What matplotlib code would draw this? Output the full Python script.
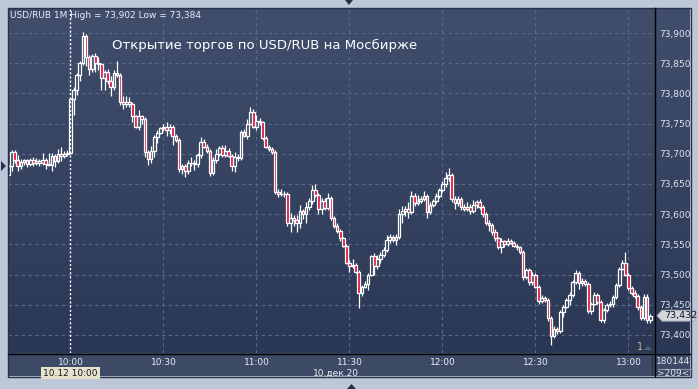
import numpy as np
import matplotlib.pyplot as plt
from matplotlib.colors import LinearSegmentedColormap
from matplotlib.patches import Polygon
from matplotlib.transforms import blended_transform_factory

# one-minute candles from 09:40, USD/RUB 10.12.20
first_open = 73.665
close = [
    73.680, 73.703, 73.690, 73.680, 73.686, 73.689, 73.683, 73.690, 73.684, 73.688,
    73.684, 73.690, 73.683, 73.682, 73.696, 73.688, 73.700, 73.696, 73.700, 73.702,
    73.790, 73.805, 73.830, 73.850, 73.895, 73.860, 73.840, 73.862, 73.850, 73.848,
    73.825, 73.835, 73.820, 73.810, 73.833, 73.830, 73.785, 73.782, 73.786, 73.783,
    73.762, 73.745, 73.762, 73.758, 73.703, 73.692, 73.705, 73.728, 73.735, 73.742,
    73.745, 73.740, 73.745, 73.730, 73.723, 73.675, 73.680, 73.672, 73.685, 73.684,
    73.683, 73.698, 73.720, 73.712, 73.705, 73.668, 73.690, 73.700, 73.710, 73.698,
    73.705, 73.697, 73.680, 73.695, 73.693, 73.736, 73.730, 73.750, 73.770, 73.745,
    73.755, 73.752, 73.726, 73.712, 73.708, 73.703, 73.636, 73.634, 73.633, 73.634,
    73.586, 73.594, 73.590, 73.585, 73.605, 73.600, 73.612, 73.622, 73.640, 73.632,
    73.608, 73.622, 73.610, 73.627, 73.594, 73.580, 73.572, 73.560, 73.548, 73.520,
    73.514, 73.516, 73.505, 73.470, 73.480, 73.485, 73.500, 73.530, 73.515, 73.525,
    73.532, 73.540, 73.557, 73.562, 73.557, 73.562, 73.600, 73.605, 73.608, 73.604,
    73.630, 73.618, 73.622, 73.625, 73.630, 73.603, 73.615, 73.622, 73.630, 73.640,
    73.650, 73.660, 73.665, 73.625, 73.618, 73.625, 73.612, 73.608, 73.612, 73.605,
    73.615, 73.620, 73.612, 73.600, 73.585, 73.582, 73.570, 73.560, 73.545, 73.555,
    73.550, 73.556, 73.553, 73.548, 73.545, 73.537, 73.496, 73.508, 73.488, 73.500,
    73.480, 73.456, 73.462, 73.458, 73.428, 73.398, 73.410, 73.406, 73.438, 73.447,
    73.458, 73.466, 73.488, 73.503, 73.486, 73.490, 73.484, 73.440, 73.452, 73.466,
    73.455, 73.425, 73.441, 73.450, 73.452, 73.463, 73.483, 73.510, 73.520, 73.500,
    73.478, 73.470, 73.465, 73.446, 73.428, 73.463, 73.425, 73.432,
]
# wick lengths above / below the body, thousandths of a rouble
wick_up = [
    5, 3, 3, 8, 5, 3, 3, 3, 5, 5, 3, 12, 3, 18, 5, 3, 8, 12, 5, 5,
    3, 5, 3, 3, 7, 3, 3, 3, 5, 10, 3, 3, 5, 8, 5, 20, 3, 10, 10, 8,
    3, 3, 10, 3, 3, 3, 8, 3, 5, 3, 5, 8, 5, 3, 3, 3, 3, 3, 5, 10,
    5, 3, 8, 5, 5, 3, 5, 8, 3, 5, 10, 5, 3, 8, 5, 3, 5, 8, 8, 5,
    10, 5, 3, 3, 3, 3, 3, 5, 8, 5, 3, 8, 5, 8, 10, 3, 8, 5, 8, 10,
    3, 5, 5, 8, 3, 3, 5, 3, 3, 3, 5, 10, 3, 3, 3, 5, 3, 3, 5, 8,
    5, 5, 8, 5, 3, 5, 8, 8, 5, 12, 8, 5, 10, 5, 8, 3, 5, 3, 5, 3,
    5, 10, 12, 3, 5, 5, 3, 5, 8, 5, 8, 3, 5, 3, 3, 5, 3, 5, 3, 5,
    3, 5, 3, 3, 3, 3, 3, 3, 3, 5, 3, 3, 5, 3, 3, 3, 5, 3, 3, 3,
    3, 5, 3, 5, 3, 5, 3, 3, 3, 5, 3, 3, 3, 3, 5, 3, 3, 3, 5, 17,
    3, 3, 5, 3, 3, 5, 5, 2,
]
wick_dn = [
    25, 8, 5, 8, 5, 5, 5, 3, 5, 3, 5, 3, 8, 3, 10, 10, 3, 8, 3, 3,
    2, 25, 8, 10, 3, 15, 10, 5, 15, 10, 20, 20, 5, 15, 5, 3, 5, 8, 5, 5,
    10, 3, 5, 8, 8, 10, 8, 10, 10, 3, 5, 10, 8, 15, 3, 5, 8, 10, 5, 5,
    10, 5, 5, 3, 3, 5, 3, 5, 3, 3, 3, 3, 8, 10, 5, 3, 3, 5, 3, 3,
    5, 5, 3, 3, 3, 3, 3, 5, 3, 5, 5, 15, 10, 15, 8, 8, 15, 5, 5, 3,
    8, 8, 3, 3, 3, 3, 3, 5, 3, 3, 10, 3, 3, 25, 5, 3, 10, 3, 15, 5,
    5, 3, 3, 5, 3, 8, 3, 15, 8, 10, 3, 5, 3, 3, 3, 10, 3, 3, 3, 3,
    3, 5, 5, 5, 10, 5, 5, 3, 3, 5, 3, 5, 3, 5, 3, 10, 5, 5, 3, 10,
    5, 3, 3, 3, 5, 3, 5, 3, 5, 5, 3, 5, 3, 3, 5, 14, 3, 5, 3, 8,
    3, 8, 3, 3, 10, 5, 3, 3, 5, 3, 3, 3, 5, 3, 3, 5, 3, 3, 3, 3,
    3, 3, 3, 5, 3, 3, 5, 5,
]
time_ticks = [20, 50, 80, 110, 140, 170, 200]
time_labels = ["10:00", "10:30", "11:00", "11:30", "12:00", "12:30", "13:00"]
price_ticks = [73.40, 73.45, 73.50, 73.55, 73.60, 73.65, 73.70, 73.75, 73.80, 73.85, 73.90]
price_labels = ["73,400", "73,450", "73,500", "73,550", "73,600", "73,650",
                "73,700", "73,750", "73,800", "73,850", "73,900"]

close = np.array(close)
opn = np.concatenate([[first_open], close[:-1]])
top = np.maximum(opn, close)
bot = np.minimum(opn, close)
hi = top + np.array(wick_up) / 1000
lo = bot - np.array(wick_dn) / 1000
idx = np.arange(len(close))
down = close < opn

W, H = 698, 389
fig = plt.figure(figsize=(W / 100, H / 100), dpi=100)
fig.patch.set_facecolor("#BCC8D8")

def frac(x0, y0, x1, y1):
    return [x0 / W, 1 - y1 / H, (x1 - x0) / W, (y1 - y0) / H]

# gradient background of the chart + right scale
bg = fig.add_axes(frac(8, 8, 690, 353), zorder=0)
cmap = LinearSegmentedColormap.from_list("bg", ["#2B3855", "#404E6C"])
bg.imshow(np.linspace(0, 1, 200)[::-1].reshape(-1, 1), aspect="auto", cmap=cmap,
          extent=[0, 1, 0, 1])
bg.set_axis_off()

# time scale panel
bp = fig.add_axes(frac(8, 353, 690, 376), zorder=0)
bp.set_facecolor("#3D4A66")
bp.set_xticks([])
bp.set_yticks([])
for s in bp.spines.values():
    s.set_visible(False)

ax = fig.add_axes(frac(8, 8, 655, 353), zorder=1)
ax.patch.set_alpha(0)
ax.set_xlim(-0.16, -0.16 + 647 / 3.1)
ax.set_ylim(73.9 - 320 / 604, 73.9 + 25 / 604)

ax.set_xticks(time_ticks)
ax.set_xticklabels(time_labels)
ax.set_yticks(price_ticks)
ax.set_yticklabels(price_labels)
ax.yaxis.tick_right()
ax.tick_params(axis="y", length=0, pad=3, labelsize=6.5, labelcolor="#DCE4EE")
ax.tick_params(axis="x", length=0, pad=3.5, labelsize=6.5, labelcolor="#E8EEF6")
for s in ax.spines.values():
    s.set_visible(False)
ax.grid(True, color="#5A6987", linestyle=(0, (3, 3)), linewidth=0.8)
ax.get_xgridlines()[0].set_visible(False)
ax.axvline(20, color="white", linestyle=(0, (1.5, 1.5)), linewidth=1, zorder=2)

# candles
face = np.where(down, "#E2123A", "none")
ax.vlines(idx, top, hi, color="white", linewidth=0.9, zorder=3)
ax.vlines(idx, lo, bot, color="white", linewidth=0.9, zorder=3)
ax.bar(idx, np.maximum(top - bot, 0.0004), bottom=bot, width=0.85, color=face,
       edgecolor="white", linewidth=0.9, zorder=4)

# last price marker on the scale
tr = blended_transform_factory(ax.transAxes, ax.transData)
last = close[-1]
h = 0.0091
x0 = 649 / 647
x1 = 654 / 647
x2 = 687 / 647
ax.add_patch(Polygon([[x0, last], [x1, last + h], [x2, last + h], [x2, last - h],
                      [x1, last - h]], closed=True, transform=tr, clip_on=False,
                     facecolor="#D3D7DD", edgecolor="#9EA4AE", linewidth=0.6, zorder=6))
ax.text(656 / 647, last, "73,432", transform=tr, fontsize=6.8, color="#101824",
        va="center", ha="left", zorder=7)

# decoration layer in pixel coordinates
ov = fig.add_axes([0, 0, 1, 1], zorder=5)
ov.set_xlim(0, W)
ov.set_ylim(H, 0)
ov.set_axis_off()
ov.patch.set_alpha(0)
ov.plot([655, 655], [8, 376], color="black", lw=1)
ov.plot([8, 690], [353.5, 353.5], color="black", lw=1)
ov.add_patch(plt.Rectangle((7.5, 7.5), 683, 369, facecolor="none", edgecolor="#26304A", lw=1))
ov.plot([651.5, 651.5], [356, 374], color="#27314A", lw=1)
ov.plot([658, 692], [368.5, 368.5], color="#8A96AA", lw=0.8)

ov.text(10, 15, "USD/RUB 1M High = 73,902 Low = 73,384", fontsize=6.5,
        color="#E8EEF6", va="center", ha="left")
ov.text(112, 45, "Открытие торгов по USD/RUB на Мосбирже", fontsize=9.5,
        color="white", va="center", ha="left")
ov.text(70.5, 373, "10.12 10:00", fontsize=6.5, color="#101820", va="center", ha="center",
        bbox=dict(boxstyle="square,pad=0.2", facecolor="#E6E3CC", edgecolor="none"))
ov.text(336, 373, "10.дек.20", fontsize=6.5, color="#E8EEF6", va="center", ha="center")
ov.text(673, 362, "180144", fontsize=6.5, color="#DCE4EE", va="center", ha="center")
ov.text(673, 374, ">209<", fontsize=6.5, color="#DCE4EE", va="center", ha="center")
ov.text(640, 347, "1", fontsize=7, color="#D6B487", va="center", ha="center")
ov.add_patch(Polygon([[644, 350], [648, 346], [652, 350]], facecolor="#56627A", edgecolor="none"))

# arrows on the outer frame
ov.add_patch(Polygon([[345, 0], [353, 0], [349, 5]], facecolor="#26304A", edgecolor="none"))
ov.add_patch(Polygon([[1, 161], [1, 171], [6, 166]], facecolor="#26304A", edgecolor="none"))
ov.add_patch(Polygon([[347, 389], [356, 389], [351.5, 384]], facecolor="#26304A", edgecolor="none"))

fig.savefig("out.png", dpi=100)
